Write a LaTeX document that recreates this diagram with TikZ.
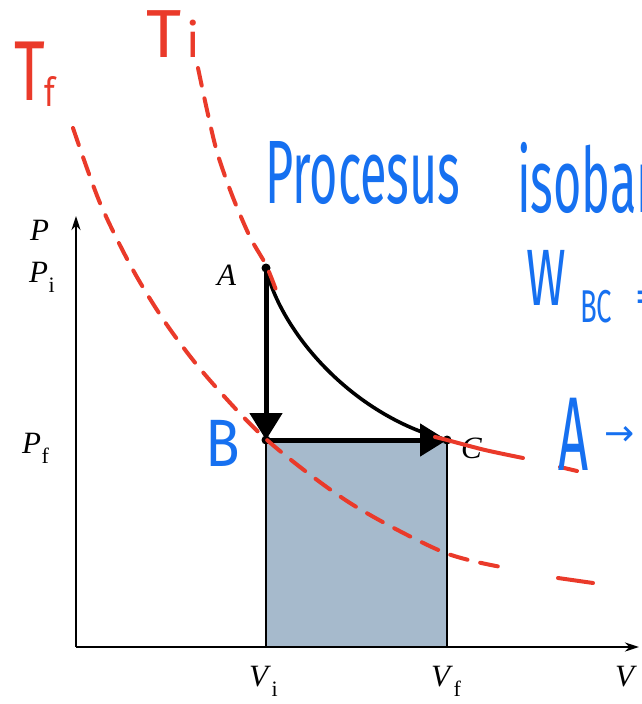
\documentclass[tikz,border=0pt]{standalone}
\usepackage{fontspec}
\newfontfamily\handfont{Fira Sans}
\newfontfamily\symfont{DejaVu Sans}
\newfontfamily\labfont{Liberation Serif}
\usetikzlibrary{arrows.meta}
\definecolor{penblue}{RGB}{22,112,240}
\definecolor{penred}{RGB}{234,58,42}
\definecolor{areablue}{RGB}{166,186,204}
\newcommand\hw[3]{\scalebox{#1}[1]{\fontsize{#2}{#2}\selectfont\handfont #3}}
\newcommand\lsub[2]{\textit{#1}\kern0.5pt\raisebox{-10pt}{\fontsize{22}{22}\selectfont #2}}
\begin{document}
\begin{tikzpicture}[x=1pt,y=-1pt,
  axis/.style={line width=2.4pt,-{Stealth[length=14pt,width=9pt]}},
  process/.style={line width=5pt,-{Triangle[length=27pt,width=32pt]}},
  curveline/.style={line width=3.6pt},
  isotherm/.style={penred,line width=4pt,line cap=round,dash pattern=on 18pt off 13pt},
  redsolid/.style={penred,line width=4pt,line cap=round},
  lab/.style={inner sep=0pt,font=\labfont\fontsize{31}{34}\selectfont},
  pen/.style={inner sep=0pt,text=penblue},
  redpen/.style={inner sep=0pt,text=penred}]
\useasboundingbox (0,0) rectangle (641,704);
\clip (0,0) rectangle (641,704);

% points
\coordinate (O) at (76,647);
\coordinate (Ptop) at (76,216);
\coordinate (Vend) at (639,647);
\coordinate (A) at (266,268);
\coordinate (B) at (266,440);
\coordinate (C) at (447,440);
\coordinate (Ci) at (447,647);

% work area
\filldraw[fill=areablue,draw=black,line width=2.4pt] (B) rectangle (Ci);

% axes
\draw[axis] (O) -- (Ptop);
\draw[axis] (O) -- (Vend);

% process lines
\draw[curveline] (A) .. controls (280,330) and (350,415) .. (C);
\draw[process] (A) -- (B);
\draw[process] (B) -- (C);
\fill (A) circle (4.5pt);
\fill (B) circle (4.5pt);
\fill (C) circle (4.5pt);

% printed labels
\node[lab,anchor=base west] (lP) at (30,240) {\textit{P}};
\node[lab,anchor=base west] (lPi) at (29,282) {\lsub{P}{i}};
\node[lab,anchor=base west] (lPf) at (22,453) {\lsub{P}{f}};
\node[lab,anchor=base west] (lA) at (217,285) {\textit{A}};
\node[lab,anchor=base west] (lC) at (461,458) {\textit{C}};
\node[lab,anchor=base west] (lVi) at (249,686) {\lsub{V}{i}};
\node[lab,anchor=base west] (lVf) at (431,686) {\lsub{V}{f}};
\node[lab,anchor=base west] (lV) at (615,686) {\textit{V}};

% red isotherms (hand drawn)
\draw[isotherm] plot[smooth] coordinates {(198,68) (207,110) (217,152) (232,195) (250,237) (266,265) (276,290)};
\draw[redsolid] plot[smooth] coordinates {(435,437) (447,440) (485,450) (523,458)};
\draw[redsolid] (560,467) -- (577,471);
\draw[isotherm] plot[smooth] coordinates {(73,128) (100,203) (133,270) (167,325) (207,377) (267,440) (350,503) (443,552) (507,568)};
\draw[redsolid] (558,578) -- (593,583);

% red handwritten labels
\node[redpen,anchor=base west] (Tf) at (14,100) {\hw{0.7}{85}{T}};
\node[redpen,anchor=base west] (Tfs) at (44,106) {\hw{0.8}{40}{f}};
\node[redpen,anchor=base west] (Ti) at (146,57) {\hw{1}{68}{T}};
\node[redpen,anchor=base west] (Tis) at (186,57) {\hw{1}{48}{i}};

% blue handwritten notes
\node[pen,anchor=base west] (n1) at (265,203) {\hw{0.54}{90}{Procesus}};
\node[pen,anchor=base west] (n2) at (517,212) {\hw{0.54}{90}{isobar}};
\node[pen,anchor=base west] (n3) at (526,305) {\hw{0.6}{80}{W}};
\node[pen,anchor=base west] (n4) at (580,322) {\hw{0.6}{46}{BC}};
\node[pen,anchor=base west] (n5) at (636,312) {\hw{0.6}{46}{=}};
\node[pen,anchor=base west] (nB) at (205,466) {\hw{0.85}{67}{B}};
\node[pen,anchor=base west] (nA) at (558,470) {\hw{0.5}{105}{A}};
\node[pen,anchor=base west,font=\symfont\fontsize{36}{36}\selectfont] (nArr) at (604,445) {→};
\end{tikzpicture}
\end{document}
